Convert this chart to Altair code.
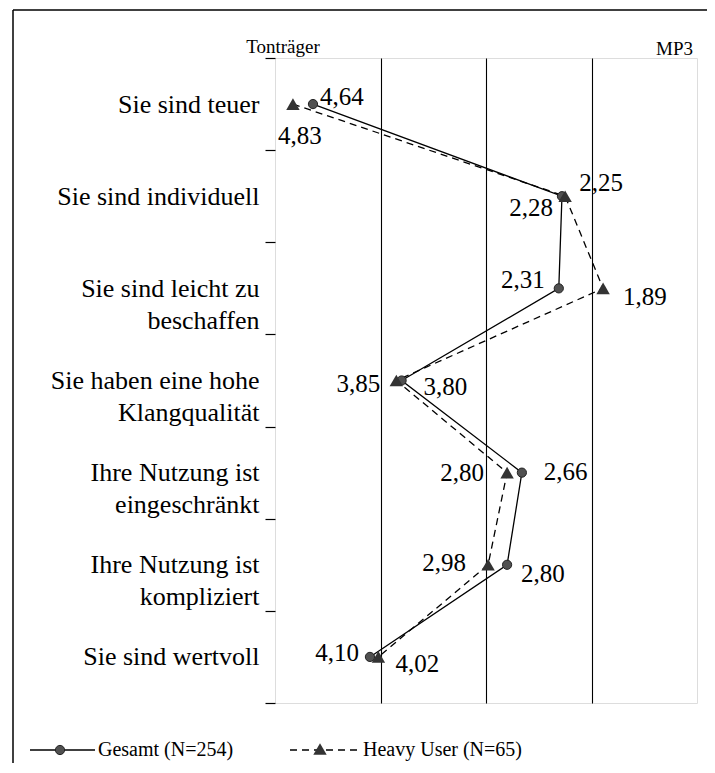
import altair as alt
import pandas as pd

# ---------------- data ----------------
categories = [
    "Sie sind teuer",
    "Sie sind individuell",
    "Sie sind leicht zu|beschaffen",
    "Sie haben eine hohe|Klangqualität",
    "Ihre Nutzung ist|eingeschränkt",
    "Ihre Nutzung ist|kompliziert",
    "Sie sind wertvoll",
]
gesamt = [4.64, 2.28, 2.31, 3.80, 2.66, 2.80, 4.10]
heavy = [4.83, 2.25, 1.89, 3.85, 2.80, 2.98, 4.02]
series_names = ["Gesamt (N=254)", "Heavy User (N=65)"]
scale_ends = ["Tonträger", "MP3"]

# ---------------- label placement (layout only) ----------------
gesamt_label_dx = [7, -9, -14, 22, 22, 14, -11]
gesamt_label_dy = [-7, 12, -8, 6, -1, 9, -4]
gesamt_label_align = ["left", "right", "right", "left", "left", "left", "right"]
heavy_label_dx = [-15, 14, 20, -16, -23, -22, 17]
heavy_label_dy = [32, -13, 9, 3, 0, -2, 7]
heavy_label_align = ["left", "left", "left", "right", "right", "right", "left"]


def fmt(v):
    return f"{v:.2f}".replace(".", ",")


rows = []
for i, c in enumerate(categories):
    rows.append(dict(cat=c, idx=i, series="Gesamt", value=gesamt[i], label=fmt(gesamt[i]),
                     dx=gesamt_label_dx[i], dy=gesamt_label_dy[i], align=gesamt_label_align[i]))
    rows.append(dict(cat=c, idx=i, series="Heavy", value=heavy[i], label=fmt(heavy[i]),
                     dx=heavy_label_dx[i], dy=heavy_label_dy[i], align=heavy_label_align[i]))
df = pd.DataFrame(rows)

FONT = "Liberation Serif, Times New Roman, serif"
W, H = 422, 645

y_enc = alt.Y(
    "cat:N",
    sort=categories,
    scale=alt.Scale(type="band", paddingInner=0, paddingOuter=0),
    axis=alt.Axis(
        title=None, tickBand="extent", tickSize=10, tickColor="black", tickWidth=1.2,
        domain=False, labelFont=FONT, labelFontSize=26, labelColor="black",
        labelPadding=6, labelExpr="split(datum.label, '|')", labelLineHeight=32,
        labelLimit=400,
    ),
)
x_enc = alt.X(
    "value:Q",
    scale=alt.Scale(domain=[1, 5], reverse=True, nice=False, zero=False),
    axis=alt.Axis(title=None, values=[2, 3, 4], grid=True, gridColor="black",
                  gridWidth=1.1, labels=False, ticks=False, domain=False),
)

base = alt.Chart(df)
g = base.transform_filter("datum.series == 'Gesamt'")
h = base.transform_filter("datum.series == 'Heavy'")

line_g = g.mark_line(color="black", strokeWidth=1.3).encode(x=x_enc, y=y_enc, order="idx:Q")
line_h = h.mark_line(color="black", strokeWidth=1.3, strokeDash=[7, 5]).encode(
    x=x_enc, y=y_enc, order="idx:Q")

pts_g = g.mark_point(shape="circle", filled=True, size=85, fill="#505050",
                     stroke="#222222", strokeWidth=1, opacity=1).encode(x=x_enc, y=y_enc)
pts_h = h.mark_point(shape="triangle-up", filled=True, size=180, fill="#333333",
                     opacity=1).encode(x=x_enc, y=y_enc)


def labels(src):
    return src.mark_text(
        font=FONT, fontSize=25, color="black", baseline="middle",
        dx={"expr": "datum.dx"}, dy={"expr": "datum.dy"}, align={"expr": "datum.align"},
    ).encode(x=x_enc, y=y_enc, text="label:N")


lab_g = labels(g)
lab_h = labels(h)

one = alt.Chart(pd.DataFrame({"k": [0]}))

# scale end captions
end_left = one.mark_text(font=FONT, fontSize=19, color="black", align="center",
                         baseline="alphabetic").encode(
    x=alt.value(8), y=alt.value(-5), text=alt.value(scale_ends[0]))
end_right = one.mark_text(font=FONT, fontSize=19, color="black", align="right",
                          baseline="alphabetic").encode(
    x=alt.value(418), y=alt.value(-3), text=alt.value(scale_ends[1]))

# outer frame
frame_top = one.mark_rule(color="black", strokeWidth=1.5).encode(
    x=alt.value(-262), x2=alt.value(W + 20), y=alt.value(-48))
frame_left = one.mark_rule(color="black", strokeWidth=1.5).encode(
    x=alt.value(-262), y=alt.value(-48), y2=alt.value(H + 60))

# legend
LY = 692
leg_line_g = one.mark_rule(color="black", strokeWidth=1.3).encode(
    x=alt.value(-245), x2=alt.value(-180), y=alt.value(LY))
leg_pt_g = one.mark_point(shape="circle", filled=True, size=85, fill="#505050",
                          stroke="#222222", strokeWidth=1, opacity=1).encode(
    x=alt.value(-215), y=alt.value(LY))
leg_txt_g = one.mark_text(font=FONT, fontSize=20, color="black", align="left",
                          baseline="middle").encode(
    x=alt.value(-177), y=alt.value(LY), text=alt.value(series_names[0]))
leg_line_h = one.mark_rule(color="black", strokeWidth=1.3, strokeDash=[7, 5]).encode(
    x=alt.value(15), x2=alt.value(82), y=alt.value(LY))
leg_pt_h = one.mark_point(shape="triangle-up", filled=True, size=180, fill="#333333",
                          opacity=1).encode(x=alt.value(45), y=alt.value(LY - 1))
leg_txt_h = one.mark_text(font=FONT, fontSize=20, color="black", align="left",
                          baseline="middle").encode(
    x=alt.value(88), y=alt.value(LY), text=alt.value(series_names[1]))

chart = alt.layer(
    line_g, line_h, pts_g, pts_h, lab_g, lab_h,
    end_left, end_right, frame_top, frame_left,
    leg_line_g, leg_pt_g, leg_txt_g, leg_line_h, leg_pt_h, leg_txt_h,
).properties(
    width=W, height=H,
    padding={"left": 267, "top": 50, "right": 10, "bottom": 60},
    autosize=alt.AutoSizeParams(type="none"),
).configure_view(stroke="black", strokeWidth=1.5).configure(background="white")

chart.save("out.html", embed_options={"renderer": "svg", "actions": False})
